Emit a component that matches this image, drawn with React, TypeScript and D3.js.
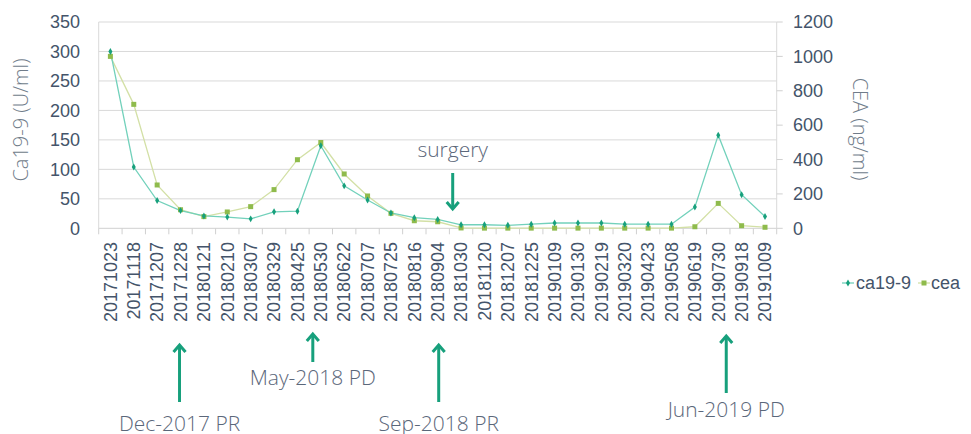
import React, { useEffect, useRef } from "react";
import * as d3 from "d3";

const dates = [
  "20171023", "20171118", "20171207", "20171228", "20180121", "20180210",
  "20180307", "20180329", "20180425", "20180530", "20180622", "20180707",
  "20180725", "20180816", "20180904", "20181030", "20181120", "20181207",
  "20181225", "20190109", "20190130", "20190219", "20190320", "20190423",
  "20190508", "20190619", "20190730", "20190918", "20191009",
];

// ca19-9, left axis (U/ml)
const ca199 = [
  300, 104, 47, 30, 21, 19, 16, 28, 29, 140, 72, 48, 26, 18, 15, 6, 6, 5, 7,
  9, 9, 9, 7, 7, 7, 36, 158, 57, 20,
];

// cea, right axis (ng/ml)
const cea = [
  1000, 721, 252, 108, 68, 95, 126, 225, 399, 499, 316, 188, 87, 44, 38, 2, 1,
  1, 1, 1, 1, 1, 1, 1, 1, 9, 145, 15, 6,
];

const leftTicks = [0, 50, 100, 150, 200, 250, 300, 350];
const rightTicks = [0, 200, 400, 600, 800, 1000, 1200];

// annotations: label, category index, x nudge, direction
const notes = [
  { text: "Dec-2017 PR", at: 3, dx: -1, top: 344, bottom: 402, textY: 431, dir: "up" },
  { text: "May-2018 PD", at: 9, dx: -8, top: 333, bottom: 362, textY: 385, dir: "up" },
  { text: "Sep-2018 PR", at: 14, dx: 1, top: 344, bottom: 402, textY: 431, dir: "up" },
  { text: "Jun-2019 PD", at: 26, dx: 8, top: 335, bottom: 393, textY: 417, dir: "up" },
  { text: "surgery", at: 14, dx: 15, top: 173, bottom: 210, textY: 157, dir: "down" },
];

const tealLine = "#72d1bb";
const tealDot = "#17a07c";
const oliveLine = "#d3e0a6";
const oliveDot = "#8fbb4c";
const arrowColor = "#17a07c";
const tickColor = "#44546a";
const noteColor = "#5b677a";
const titleColor = "#707c8a";

const Chart = () => {
  const ref = useRef(null);

  useEffect(() => {
    const svg = d3.select(ref.current).attr("width", 971).attr("height", 434);
    svg.selectAll("*").remove();

    const left = 98.7;
    const right = 776.7;
    const top = 22;
    const bottom = 228.3;

    const x = d3.scaleBand().domain(dates).range([left, right]);
    const yL = d3.scaleLinear().domain([0, 350]).range([bottom, top]);
    const yR = d3.scaleLinear().domain([0, 1200]).range([bottom, top]);
    const cx = (i) => x(dates[i]) + x.bandwidth() / 2;

    // gridlines
    svg
      .append("g")
      .selectAll("line")
      .data(leftTicks.filter((d) => d > 0))
      .join("line")
      .attr("x1", left)
      .attr("x2", right)
      .attr("y1", (d) => yL(d))
      .attr("y2", (d) => yL(d))
      .attr("stroke", "#d9d9d9")
      .attr("stroke-width", 1);

    // axis lines
    svg.append("line").attr("x1", left).attr("x2", left).attr("y1", top).attr("y2", bottom).attr("stroke", "#d9d9d9");
    svg.append("line").attr("x1", right).attr("x2", right).attr("y1", top).attr("y2", bottom).attr("stroke", "#d9d9d9");
    svg.append("line").attr("x1", left).attr("x2", right).attr("y1", bottom).attr("y2", bottom).attr("stroke", "#d0d0d0");

    // x tick marks at category boundaries
    const bounds = dates.map((d) => x(d)).concat([right]);
    svg
      .append("g")
      .selectAll("line")
      .data(bounds)
      .join("line")
      .attr("x1", (d) => d)
      .attr("x2", (d) => d)
      .attr("y1", bottom)
      .attr("y2", bottom + 6)
      .attr("stroke", "#d0d0d0");

    // right tick marks
    svg
      .append("g")
      .selectAll("line")
      .data(rightTicks)
      .join("line")
      .attr("x1", right)
      .attr("x2", right + 6)
      .attr("y1", (d) => yR(d))
      .attr("y2", (d) => yR(d))
      .attr("stroke", "#d0d0d0");

    const font = "'Liberation Sans', Arial, sans-serif";
    const noteFont = "'Open Sans', 'Noto Sans', sans-serif";

    // left tick labels
    svg
      .append("g")
      .selectAll("text")
      .data(leftTicks)
      .join("text")
      .attr("x", 80)
      .attr("y", (d) => yL(d))
      .attr("dy", "0.35em")
      .attr("text-anchor", "end")
      .attr("font-family", font)
      .attr("font-size", 18)
      .attr("fill", tickColor)
      .text((d) => d);

    // right tick labels
    svg
      .append("g")
      .selectAll("text")
      .data(rightTicks)
      .join("text")
      .attr("x", 793)
      .attr("y", (d) => yR(d))
      .attr("dy", "0.35em")
      .attr("font-family", font)
      .attr("font-size", 18)
      .attr("fill", tickColor)
      .text((d) => d);

    // x labels
    svg
      .append("g")
      .selectAll("text")
      .data(dates)
      .join("text")
      .attr("transform", (d) => `translate(${x(d) + x.bandwidth() / 2},242) rotate(-90)`)
      .attr("dy", "0.35em")
      .attr("text-anchor", "end")
      .attr("font-family", font)
      .attr("font-size", 18)
      .attr("fill", tickColor)
      .text((d) => d);

    // axis titles
    svg
      .append("text")
      .attr("transform", "translate(21,120) rotate(-90)")
      .attr("dy", "0.35em")
      .attr("text-anchor", "middle")
      .attr("font-family", noteFont)
      .attr("font-weight", 300)
      .attr("font-size", 20)
      .attr("fill", titleColor)
      .text("Ca19-9 (U/ml)");
    svg
      .append("text")
      .attr("transform", "translate(860,129) rotate(90)")
      .attr("dy", "0.35em")
      .attr("text-anchor", "middle")
      .attr("font-family", noteFont)
      .attr("font-weight", 300)
      .attr("font-size", 20)
      .attr("fill", titleColor)
      .text("CEA (ng/ml)");

    // lines
    const lineL = d3.line().x((d, i) => cx(i)).y((d) => yL(d));
    const lineR = d3.line().x((d, i) => cx(i)).y((d) => yR(d));

    svg.append("path").attr("d", lineR(cea)).attr("fill", "none").attr("stroke", oliveLine).attr("stroke-width", 1.3);
    svg.append("path").attr("d", lineL(ca199)).attr("fill", "none").attr("stroke", tealLine).attr("stroke-width", 1.3);

    svg
      .append("g")
      .selectAll("rect")
      .data(cea)
      .join("rect")
      .attr("x", (d, i) => cx(i) - 2.5)
      .attr("y", (d) => yR(d) - 2.5)
      .attr("width", 5)
      .attr("height", 5)
      .attr("fill", oliveDot);

    svg
      .append("g")
      .selectAll("path")
      .data(ca199)
      .join("path")
      .attr("d", d3.symbol(d3.symbolDiamond, 14))
      .attr("transform", (d, i) => `translate(${cx(i)},${yL(d)})`)
      .attr("fill", tealDot);

    // legend
    const lg = svg.append("g").attr("transform", "translate(0,283)");
    lg.append("line").attr("x1", 842).attr("x2", 854).attr("stroke", tealLine).attr("stroke-width", 1.3);
    lg.append("path").attr("d", d3.symbol(d3.symbolDiamond, 14)).attr("transform", "translate(848,0)").attr("fill", tealDot);
    lg.append("text").attr("x", 856).attr("dy", "0.35em").attr("font-family", font).attr("font-size", 18).attr("fill", tickColor).text("ca19-9");
    lg.append("line").attr("x1", 918).attr("x2", 930).attr("stroke", oliveLine).attr("stroke-width", 1.3);
    lg.append("rect").attr("x", 921.5).attr("y", -2.5).attr("width", 5).attr("height", 5).attr("fill", oliveDot);
    lg.append("text").attr("x", 931).attr("dy", "0.35em").attr("font-family", font).attr("font-size", 18).attr("fill", tickColor).text("cea");

    // annotations
    notes.forEach((n) => {
      const ax = cx(n.at) + n.dx;
      const g = svg.append("g");
      g.append("line")
        .attr("x1", ax)
        .attr("x2", ax)
        .attr("y1", n.top + (n.dir === "up" ? 2 : 0))
        .attr("y2", n.bottom - (n.dir === "down" ? 2 : 0))
        .attr("stroke", arrowColor)
        .attr("stroke-width", 3);
      const tip = n.dir === "up" ? n.top : n.bottom;
      const s = n.dir === "up" ? 1 : -1;
      g.append("path")
        .attr("d", `M${ax - 6},${tip + s * 8}L${ax},${tip + s * 1}L${ax + 6},${tip + s * 8}`)
        .attr("fill", "none")
        .attr("stroke", arrowColor)
        .attr("stroke-width", 3)
        .attr("stroke-linejoin", "miter");
      g.append("text")
        .attr("x", ax)
        .attr("y", n.textY)
        .attr("text-anchor", "middle")
        .attr("font-family", noteFont)
        .attr("font-weight", 300)
        .attr("font-size", 21)
        .attr("fill", noteColor)
        .text(n.text);
    });
  }, []);

  return <svg ref={ref} style={{ position: "absolute", left: 0, top: 0 }}></svg>;
};

export default function App() {
  return <Chart />;
}
